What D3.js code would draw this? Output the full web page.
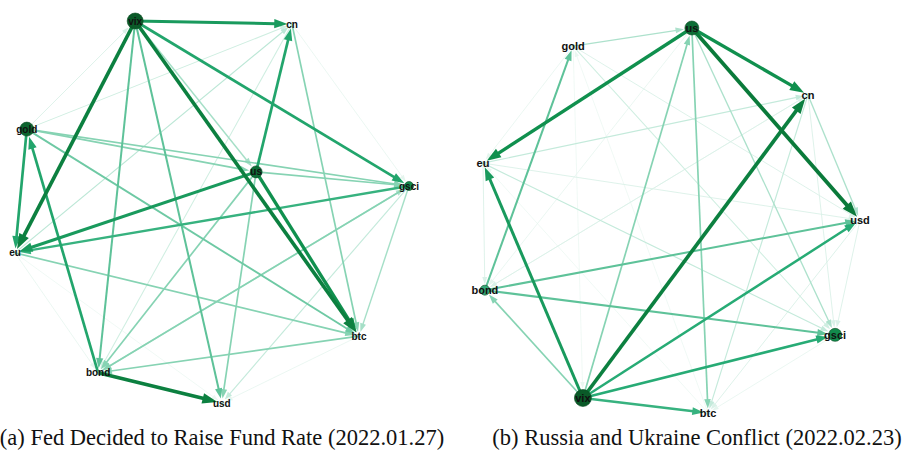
<!DOCTYPE html>
<html>
<head>
<meta charset="utf-8">
<script src="https://cdn.jsdelivr.net/npm/d3@7/dist/d3.min.js"></script>
<style>
  html,body{margin:0;padding:0;background:#fff;}
  svg{display:block;}
</style>
</head>
<body>
<svg id="chart" width="903" height="452"></svg>
<script>
// ---------- DATA ----------
// Panel (a) node layout (normalized 0-100 units) and node sizes
const nodesA = ["vix","cn","gold","us","gsci","eu","btc","bond","usd"];
const nodesAx = [30.5, 70.3, 3.0, 61.2, 100, 0, 87.3, 21.1, 52.5];
const nodesAy = [0, 0.8, 28.3, 39.5, 43.2, 60.7, 82.5, 92.1, 100];
const nodesAsize = [8, 2, 7, 6, 4.5, 2, 2, 2, 2];
const nodesAshade = [0.95, 0.2, 0.9, 0.85, 0.7, 0.2, 0.2, 0.2, 0.2];

// Panel (a) edges: source, target, strength
const edgesAsrc = ["vix","bond","vix","us","vix","us","vix","us","bond","gold","gsci","vix","vix","gold","eu","gold","gold","us","us","us","gsci","btc","cn","gsci","vix","gsci","eu","gold","bond","cn","gold","eu","eu","cn","btc","cn","gold"];
const edgesAtgt = ["eu","usd","btc","btc","cn","eu","gsci","cn","gold","eu","eu","bond","usd","btc","btc","gsci","us","gsci","bond","usd","bond","bond","btc","btc","us","usd","cn","cn","gsci","bond","vix","bond","usd","gsci","usd","us","bond"];
const edgesAw   = [5, 5, 5, 4.5, 4, 4, 3.5, 3.5, 3.5, 3.5, 3, 2.5, 2.5, 2.3, 2, 2, 2, 2, 2, 2, 2, 2, 2, 1.6, 1.6, 1.2, 1.3, 1, 1.5, 1, 0.8, 0.6, 0.5, 0.6, 0.6, 0.6, 0.5];

// Panel (b)
const nodesB = ["us","gold","cn","eu","usd","bond","gsci","vix","btc"];
const nodesBx = [55.4, 23.9, 86.2, 0, 100, 0.5, 93.4, 26.5, 59.7];
const nodesBy = [0, 4.7, 17.4, 35.1, 49.9, 68.1, 79.7, 96.1, 100];
const nodesBsize = [7, 2, 2, 2, 2, 5, 6.5, 8.5, 2];
const nodesBshade = [0.85, 0.2, 0.2, 0.2, 0.2, 0.55, 0.7, 0.95, 0.2];

const edgesBsrc = ["us","vix","us","us","vix","vix","vix","vix","bond","bond","bond","vix","us","vix","gold","cn","us","eu","eu","cn","gold","gold","eu","usd","usd","cn","gold","btc","gsci","us","bond","eu","gold","btc","cn"];
const edgesBtgt = ["usd","cn","cn","eu","eu","usd","gsci","btc","usd","gsci","gold","bond","btc","us","us","usd","gsci","cn","gsci","btc","gsci","usd","bond","btc","gsci","bond","eu","eu","btc","bond","cn","usd","vix","gold","gsci"];
const edgesBw   = [5.2, 5, 4.5, 4.5, 4, 3.2, 3.2, 3, 2.5, 2.5, 2.5, 2, 2, 2, 1.5, 1.5, 1.5, 1.2, 1.2, 1.2, 1, 0.8, 0.8, 0.8, 0.8, 0.8, 0.6, 0.5, 0.6, 0.6, 0.6, 0.8, 0.5, 0.5, 0.8];

const captionA = "(a) Fed Decided to Raise Fund Rate (2022.01.27)";
const captionB = "(b) Russia and Ukraine Conflict (2022.02.23)";

// ---------- DRAW ----------
const svg = d3.select("#chart");

const colorScale = d3.scaleLinear()
  .domain([0.5, 1.2, 2, 3.2, 4.5, 5.2])
  .range(["#eaf7f1", "#c4eadb", "#86d3b3", "#27ab75", "#10904e", "#0a7a3a"]);
const widthScale = d3.scaleLinear().domain([0.5, 5.2]).range([0.7, 3.8]);
const nodeColor = d3.scaleLinear().domain([0.2, 0.55, 0.7, 0.95])
  .range(["#9edcc2", "#35a878", "#128a4c", "#0a5a28"]);

function drawPanel(cfg) {
  const g = svg.append("g");
  const x = d3.scaleLinear().domain([0, 100]).range(cfg.xr);
  const y = d3.scaleLinear().domain([0, 100]).range(cfg.yr);
  const pos = {};
  cfg.names.forEach((n, i) => {
    pos[n] = {x: x(cfg.nx[i]), y: y(cfg.ny[i]), r: cfg.size[i], shade: cfg.shade[i]};
  });
  const edges = cfg.src.map((s, i) => ({s, t: cfg.tgt[i], w: cfg.w[i]}))
    .sort((a, b) => a.w - b.w);

  const eg = g.append("g");
  edges.forEach(e => {
    const a = pos[e.s], b = pos[e.t];
    const dx = b.x - a.x, dy = b.y - a.y;
    const len = Math.hypot(dx, dy);
    const ux = dx / len, uy = dy / len;
    const sw = widthScale(e.w);
    const headL = 4.5 + 2.9 * sw;
    const headW = 3 + 2.1 * sw;
    const off = Math.max(b.r, 3.5) + 1;
    const tipX = b.x - ux * off, tipY = b.y - uy * off;
    const baseX = tipX - ux * headL, baseY = tipY - uy * headL;
    const col = colorScale(e.w);
    eg.append("line")
      .attr("x1", a.x).attr("y1", a.y)
      .attr("x2", baseX + ux * 1).attr("y2", baseY + uy * 1)
      .attr("stroke", col).attr("stroke-width", sw);
    const px = -uy, py = ux;
    eg.append("path")
      .attr("d", `M${tipX},${tipY}L${baseX + px * headW / 2},${baseY + py * headW / 2}L${baseX - px * headW / 2},${baseY - py * headW / 2}Z`)
      .attr("fill", col);
  });

  const ng = g.append("g");
  cfg.names.forEach(n => {
    const p = pos[n];
    ng.append("circle").attr("cx", p.x).attr("cy", p.y).attr("r", p.r)
      .attr("fill", nodeColor(p.shade))
      .attr("stroke", p.r > 3 ? "#0a4a22" : "none").attr("stroke-width", 0.6)
      .attr("fill-opacity", p.r > 3 ? 1 : 0.6);
  });
  cfg.names.forEach(n => {
    const p = pos[n];
    ng.append("text").attr("x", p.x).attr("y", p.y)
      .attr("text-anchor", "middle").attr("dominant-baseline", "central")
      .attr("font-family", "'Liberation Sans', Arial, sans-serif")
      .attr("font-weight", "bold").attr("font-size", cfg.fs)
      .attr("fill", "#111").text(n);
  });

  g.append("text").attr("x", cfg.capX).attr("y", 445)
    .attr("text-anchor", "middle")
    .attr("font-family", "'Liberation Serif', 'Times New Roman', serif")
    .attr("font-size", 22.5).attr("fill", "#111").text(cfg.caption);
}

drawPanel({names: nodesA, nx: nodesAx, ny: nodesAy, size: nodesAsize, shade: nodesAshade,
  src: edgesAsrc, tgt: edgesAtgt, w: edgesAw, xr: [15, 409], yr: [21, 403], fs: 10,
  caption: captionA, capX: 222});
drawPanel({names: nodesB, nx: nodesBx, ny: nodesBy, size: nodesBsize, shade: nodesBshade,
  src: edgesBsrc, tgt: edgesBtgt, w: edgesBw, xr: [483, 860], yr: [28, 413], fs: 11,
  caption: captionB, capX: 697});
</script>
</body>
</html>
